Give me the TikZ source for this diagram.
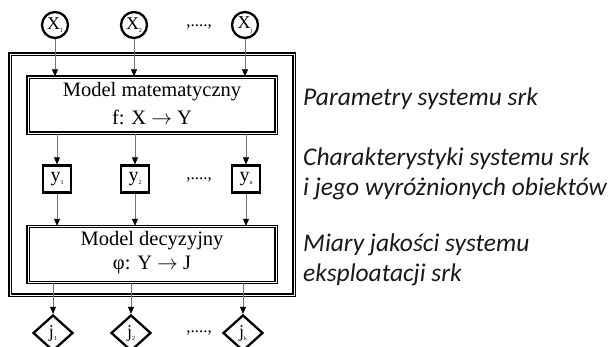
\documentclass[tikz,border=0pt]{standalone}
\usepackage{fontspec}
\setmainfont{Liberation Serif}
\newfontfamily\notefont{Carlito}
\usetikzlibrary{arrows.meta,shapes.geometric}
\tikzset{
  frame/.style={draw=black, line width=1.35pt, double=white, double distance=0.35pt},
  modelbox/.style={frame, fill=white, minimum width=248pt, minimum height=56pt, inner sep=0pt},
  innode/.style={circle, draw=black, line width=2.3pt, minimum size=26pt, inner sep=0pt, font=\fontsize{18}{18}\selectfont},
  outbox/.style={rectangle, draw=black, line width=2.3pt, minimum width=28pt, minimum height=27pt, inner sep=0pt, font=\fontsize{20}{20}\selectfont},
  measure/.style={diamond, draw=black, line width=2.3pt, minimum width=40pt, minimum height=36pt, inner sep=0pt, font=\fontsize{18}{18}\selectfont},
  flow/.style={draw=black!55, line width=0.6pt, -{Triangle[length=7pt,width=6pt,color=black]}},
  note/.style={anchor=west, font=\notefont\itshape\fontsize{25.5}{30}\selectfont, text=black!90, align=left, inner sep=0pt},
  dots/.style={font=\fontsize{17}{17}\selectfont, inner sep=0pt}
}
\newcommand{\idx}[1]{\raisebox{-3.5pt}{\fontsize{6}{6}\selectfont #1}}
\begin{document}
\begin{tikzpicture}[x=1pt, y=-1pt]
  \useasboundingbox (0,0) rectangle (608,347);

  % outer system frame
  \draw[frame] (10,54) rectangle (294,295);

  % models
  \node[modelbox] (mm) at (152,105) {};
  \node[font=\fontsize{20.5}{20}\selectfont] (mmt) at (152,92) {Model matematyczny};
  \node[font=\fontsize{20.5}{20}\selectfont] (mmf) at (152,117) {f: X $\rightarrow$ Y};
  \node[modelbox] (dm) at (152,254.5) {};
  \node[font=\fontsize{20.5}{20}\selectfont] (dmt) at (152,241) {Model decyzyjny};
  \node[font=\fontsize{20.5}{20}\selectfont] (dmf) at (152,265) {φ: Y $\rightarrow$ J};

  % inputs
  \node[innode] (x1) at (55,25) {X\idx{1}};
  \node[innode] (x2) at (134,25) {X\idx{2}};
  \node[innode] (xj) at (245,25) {X\idx{j}};
  \node[dots] (xd) at (199,27) {,....,};

  % characteristics
  \node[outbox] (y1) at (57,179) {y\idx{1}};
  \node[outbox] (y2) at (135,179) {y\idx{2}};
  \node[outbox] (yn) at (246,179) {y\idx{n}};
  \node[dots] (yd) at (199,180) {,....,};

  % quality measures
  \node[measure] (j1) at (53,333) {j\idx{1}};
  \node[measure] (j2) at (131,333) {j\idx{2}};
  \node[measure] (jk) at (243,333) {j\idx{k}};
  \node[dots] (jd) at (199,333) {,....,};

  % connectors
  \foreach \n in {x1,x2,xj} \draw[flow] (\n.south) -- (\n.south |- mm.north);
  \foreach \n in {y1,y2,yn} {
    \draw[flow] (mm.south -| \n.north) -- (\n.north);
    \draw[flow] (\n.south) -- (\n.south |- dm.north);
  }
  \foreach \n in {j1,j2,jk} \draw[flow] (dm.south -| \n.north) -- (\n.north);

  % descriptions
  \node[note] (n1) at (303,99) {Parametry systemu srk};
  \node[note] (n2) at (303,174) {Charakterystyki systemu srk\\i jego wyróżnionych obiektów};
  \node[note] (n3) at (303,260) {Miary jakości systemu\\eksploatacji srk};
\end{tikzpicture}
\end{document}
